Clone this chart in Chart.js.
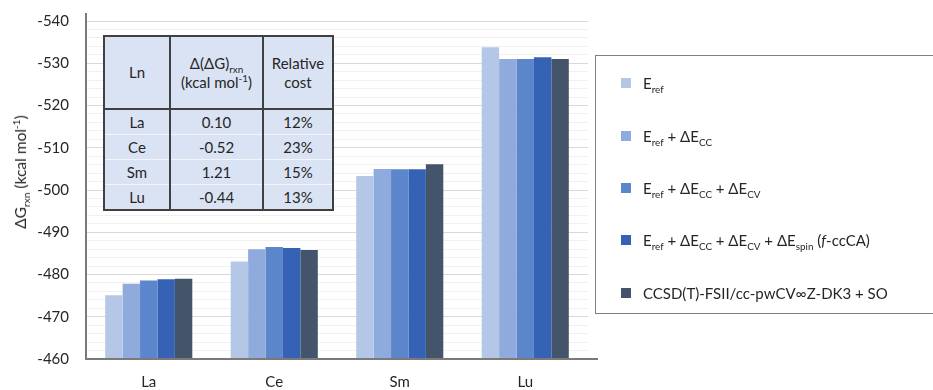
<!DOCTYPE html>
<html>
<head>
<meta charset="utf-8">
<script src="https://cdn.jsdelivr.net/npm/chart.js@4/dist/chart.umd.min.js"></script>
<style>
  html, body { margin: 0; padding: 0; background: #fff; }
  #wrap { position: relative; width: 933px; height: 390px; overflow: hidden; font-family: Lato, "Open Sans", sans-serif; color: #262626; }
  #chart { position: absolute; left: 0; top: 0; }
  #ytitle { position: absolute; left: 20px; top: 172px; transform: translate(-50%, -50%) rotate(-90deg); white-space: nowrap; font-size: 15.5px; }
  sub, sup { font-size: 0.66em; line-height: 0; }
  #tbl { position: absolute; left: 103px; top: 35px; border-collapse: collapse; background: #dae3f3; font-size: 15px; }
  #tbl td { text-align: center; padding: 0; border-left: 2px solid #404040; border-right: 2px solid #404040; border-top: 1px solid #f4f6fa; }
  #tbl tr.head td { height: 71px; line-height: 1.25; border-top: 2px solid #404040; border-bottom: 2px solid #404040; }
  #tbl tr.row td { height: 24px; }
  #tbl tr.row:last-child td { border-bottom: 2px solid #404040; }
  #legend { position: absolute; left: 595px; top: 55px; width: 360px; height: 259px; border: 1.5px solid #7f7f7f; box-sizing: border-box; }
  .item { position: absolute; left: 25px; height: 20px; font-size: 15px; white-space: nowrap; }
  .sw { position: absolute; left: 0; top: 5px; width: 10px; height: 10px; }
  .lt { position: absolute; left: 22px; top: 0; line-height: 20px; }
</style>
</head>
<body>
<div id="wrap">
  <canvas id="chart" width="933" height="390"></canvas>
  <div id="ytitle">ΔG<sub>rxn</sub> (kcal mol<sup>-1</sup>)</div>
  <table id="tbl"></table>
  <div id="legend"></div>
</div>
<script>
// Lanthanides on the category axis
const categories = ['La', 'Ce', 'Sm', 'Lu'];

// Reaction free energies (kcal/mol) for each level of theory
const eRef      = [-475.1, -483.1, -503.3, -533.8];
const eRefCC    = [-477.8, -486.0, -505.0, -531.0];
const eRefCCCV  = [-478.6, -486.5, -504.9, -531.0];
const fccCA     = [-478.9, -486.3, -504.9, -531.4];
const ccsdtRef  = [-479.0, -485.8, -506.1, -531.0];

// Series labels (with sub/superscripts) and fill colours
const seriesLabels = [
  'E<sub>ref</sub>',
  'E<sub>ref</sub> + ΔE<sub>CC</sub>',
  'E<sub>ref</sub> + ΔE<sub>CC</sub> + ΔE<sub>CV</sub>',
  'E<sub>ref</sub> + ΔE<sub>CC</sub> + ΔE<sub>CV</sub> + ΔE<sub>spin</sub> (<i>f</i>-ccCA)',
  'CCSD(T)-FSII/cc-pwCV∞Z-DK3 + SO'
];
const seriesColors = ['#b4c7e7', '#8faadc', '#5b86cc', '#3562b4', '#44546a'];

// Inset table: deviation of f-ccCA from the reference and relative cost
const tableLn    = ['La', 'Ce', 'Sm', 'Lu'];
const tableDelta = ['0.10', '-0.52', '1.21', '-0.44'];
const tableCost  = ['12%', '23%', '15%', '13%'];

// Y axis range and tick spacing
const yMin = -540, yMax = -460, yStep = 2, yLabelStep = 10;

const seriesData = [eRef, eRefCC, eRefCCCV, fccCA, ccsdtRef];

// Axis lines that run slightly past the plot area
const axisLines = {
  id: 'axisLines',
  afterDatasetsDraw(chart) {
    const { ctx, chartArea: a } = chart;
    ctx.save();
    ctx.strokeStyle = '#7a7a7a';
    ctx.lineWidth = 2;
    ctx.beginPath();
    ctx.moveTo(a.left, a.top - 8);
    ctx.lineTo(a.left, a.bottom);
    ctx.lineTo(a.right + 10, a.bottom);
    ctx.stroke();
    ctx.restore();
  }
};

new Chart(document.getElementById('chart'), {
  type: 'bar',
  data: {
    labels: categories,
    datasets: seriesData.map((d, i) => ({
      label: seriesLabels[i],
      data: d,
      backgroundColor: seriesColors[i],
      borderWidth: 0,
      categoryPercentage: 0.694,
      barPercentage: 1.0
    }))
  },
  options: {
    responsive: false,
    animation: false,
    devicePixelRatio: 1,
    layout: { padding: { top: 21, right: 345, left: 0, bottom: 0 } },
    plugins: { legend: { display: false }, tooltip: { enabled: false } },
    scales: {
      x: {
        grid: { display: false, drawTicks: false },
        border: { display: false },
        ticks: { color: '#262626', font: { family: 'Lato', size: 15 }, padding: 14 },
        afterFit(s) { s.height = 31; }
      },
      y: {
        reverse: true,
        min: yMin,
        max: yMax,
        border: { display: false },
        grid: {
          drawTicks: true,
          tickLength: 17,
          tickColor: 'rgba(0,0,0,0)',
          color: c => (c.tick && c.tick.value % yLabelStep === 0) ? '#d9d9d9' : '#f0f0f0',
          lineWidth: 1
        },
        ticks: {
          stepSize: yStep,
          maxTicksLimit: 100,
          autoSkip: false,
          padding: 0,
          color: '#262626',
          font: { family: 'Lato', size: 15 },
          callback: v => (v % yLabelStep === 0 ? String(v) : '')
        },
        afterFit(s) { s.width = 86; }
      }
    }
  },
  plugins: [axisLines]
});

// Inset table
const tbl = document.getElementById('tbl');
const colW = [64, 91, 68];
let html = '<tr class="head">' +
  `<td style="width:${colW[0]}px">Ln</td>` +
  `<td style="width:${colW[1]}px">Δ(ΔG)<sub>rxn</sub><br>(kcal mol<sup>-1</sup>)</td>` +
  `<td style="width:${colW[2]}px">Relative<br>cost</td></tr>`;
tableLn.forEach((ln, i) => {
  html += `<tr class="row"><td>${ln}</td><td>${tableDelta[i]}</td><td>${tableCost[i]}</td></tr>`;
});
tbl.innerHTML = html;

// Legend box
const legend = document.getElementById('legend');
const itemTops = [17, 70, 122, 174, 227];
seriesLabels.forEach((lab, i) => {
  const el = document.createElement('div');
  el.className = 'item';
  el.style.top = itemTops[i] + 'px';
  el.innerHTML = `<span class="sw" style="background:${seriesColors[i]}"></span><span class="lt">${lab}</span>`;
  legend.appendChild(el);
});
</script>
</body>
</html>
